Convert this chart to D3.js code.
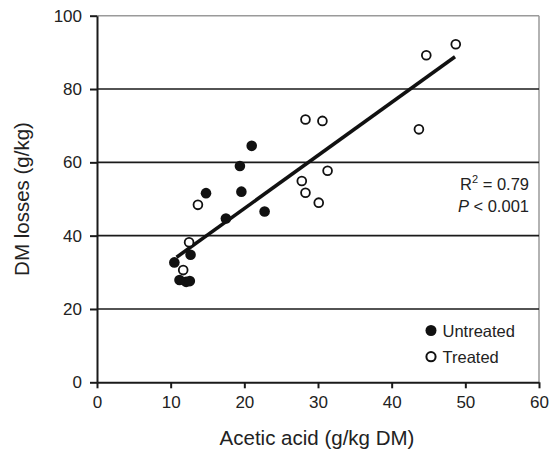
<!DOCTYPE html>
<html>
<head>
<meta charset="utf-8">
<script src="https://cdn.jsdelivr.net/npm/d3@7"></script>
<style>
  body { margin: 0; background: #fff; }
  text { font-family: "Liberation Sans", Arial, sans-serif; fill: #222; }
</style>
</head>
<body>
<svg id="chart" width="549" height="454"></svg>
<script>
// Data
const untreatedX = [10.5, 11.2, 12.1, 12.6, 12.7, 14.8, 17.5, 19.6, 19.4, 21.0, 22.75];
const untreatedY = [32.7, 27.9, 27.4, 27.6, 34.8, 51.6, 44.7, 52.0, 59.0, 64.5, 46.6];
const treatedX = [11.7, 12.5, 13.7, 27.8, 28.3, 28.3, 30.6, 30.1, 31.3, 43.7, 44.7, 48.7];
const treatedY = [30.6, 38.2, 48.4, 54.9, 51.7, 71.7, 71.3, 49.0, 57.7, 69.0, 89.2, 92.2];
const trendX = [10.8, 48.6];
const trendY = [34.1, 88.8];
const xTicks = [0, 10, 20, 30, 40, 50, 60];
const yTicks = [0, 20, 40, 60, 80, 100];
const gridValues = [20, 40, 60, 80];
const legendLabels = ["Untreated", "Treated"];

const svg = d3.select("#chart");
const x = d3.scaleLinear().domain([0, 60]).range([97, 539]);
const y = d3.scaleLinear().domain([0, 100]).range([382.3, 15.7]);

// Frame (top and right, gray)
svg.append("line").attr("x1", x(0)).attr("x2", x(60)).attr("y1", y(100)).attr("y2", y(100))
  .attr("stroke", "#9a9a9a").attr("stroke-width", 1.5);
svg.append("line").attr("x1", x(60)).attr("x2", x(60)).attr("y1", y(100)).attr("y2", y(0))
  .attr("stroke", "#9a9a9a").attr("stroke-width", 1.5);

// Grid lines
svg.append("g").selectAll("line").data(gridValues).join("line")
  .attr("x1", x(0)).attr("x2", x(60))
  .attr("y1", d => y(d)).attr("y2", d => y(d))
  .attr("stroke", "#1a1a1a").attr("stroke-width", 1.6);

// Axes
const xAxis = d3.axisBottom(x).tickValues(xTicks).tickSize(6).tickPadding(8).tickSizeOuter(0);
const gx = svg.append("g").attr("transform", `translate(0,${y(0)})`).call(xAxis);
const yAxis = d3.axisLeft(y).tickValues(yTicks).tickSize(7).tickPadding(8).tickSizeOuter(0);
const gy = svg.append("g").attr("transform", `translate(${x(0)},0)`).call(yAxis);
[gx, gy].forEach(g => {
  g.select(".domain").attr("stroke", "#1a1a1a").attr("stroke-width", 2);
  g.selectAll(".tick line").attr("stroke", "#1a1a1a").attr("stroke-width", 2);
  g.selectAll(".tick text").attr("font-family", "Liberation Sans, Arial, sans-serif")
    .attr("font-size", 17).attr("fill", "#222");
});
gx.selectAll(".tick text").attr("dy", "0.71em");

// Trend line
svg.append("line")
  .attr("x1", x(trendX[0])).attr("y1", y(trendY[0]))
  .attr("x2", x(trendX[1])).attr("y2", y(trendY[1]))
  .attr("stroke", "#111").attr("stroke-width", 3.5);

// Points
svg.append("g").selectAll("circle").data(untreatedX.map((v, i) => [v, untreatedY[i]])).join("circle")
  .attr("cx", d => x(d[0])).attr("cy", d => y(d[1])).attr("r", 5.3)
  .attr("fill", "#111");
svg.append("g").selectAll("circle").data(treatedX.map((v, i) => [v, treatedY[i]])).join("circle")
  .attr("cx", d => x(d[0])).attr("cy", d => y(d[1])).attr("r", 4.4)
  .attr("fill", "#fff").attr("stroke", "#111").attr("stroke-width", 1.8);

// Axis titles
svg.append("text").attr("x", 317).attr("y", 445).attr("text-anchor", "middle")
  .attr("font-size", 20.5).text("Acetic acid (g/kg DM)");
svg.append("text").attr("transform", "translate(29,199) rotate(-90)").attr("text-anchor", "middle")
  .attr("font-size", 20.5).text("DM losses (g/kg)");

// Stats annotation
const r2 = svg.append("text").attr("x", 529).attr("y", 190).attr("text-anchor", "end").attr("font-size", 16.5);
r2.append("tspan").text("R");
r2.append("tspan").attr("font-size", 11).attr("dy", -7).text("2");
r2.append("tspan").attr("dy", 7).text(" = 0.79");
const p = svg.append("text").attr("x", 529).attr("y", 211.5).attr("text-anchor", "end").attr("font-size", 16.5);
p.append("tspan").attr("font-style", "italic").text("P");
p.append("tspan").text(" < 0.001");

// Legend
const leg = svg.append("g");
leg.append("circle").attr("cx", 431).attr("cy", 330.5).attr("r", 5.5).attr("fill", "#111");
leg.append("circle").attr("cx", 431).attr("cy", 356.7).attr("r", 4.6)
  .attr("fill", "#fff").attr("stroke", "#111").attr("stroke-width", 2);
leg.selectAll("text").data(legendLabels).join("text")
  .attr("x", 442.5).attr("y", (d, i) => 336.5 + i * 26.5)
  .attr("font-size", 16.5).text(d => d);
</script>
</body>
</html>
